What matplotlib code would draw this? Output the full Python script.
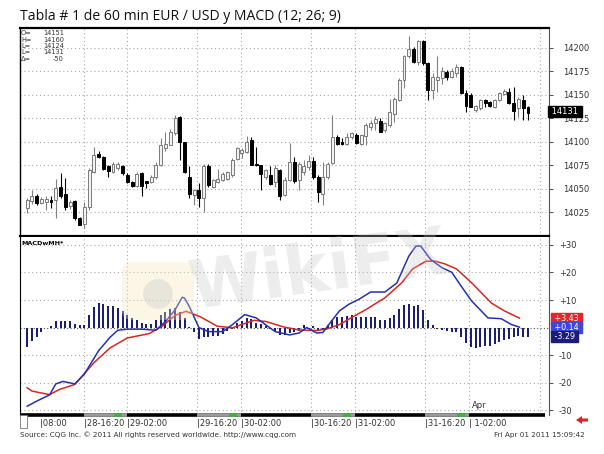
import matplotlib as mpl
mpl.use("Agg")
import matplotlib.pyplot as plt
from matplotlib.patches import FancyBboxPatch, Rectangle, Polygon
import matplotlib.transforms as mtransforms

# hourly EUR/USD candles (price in points, 1.4151 -> 14151)
opens = [14030, 14037, 14043, 14035, 14036, 14038, 14038, 14052, 14045, 14032,
         14037, 14019, 14013, 14031, 14068, 14087, 14084, 14074, 14068, 14072,
         14074, 14065, 14057, 14053, 14067, 14058, 14057, 14063, 14075, 14094,
         14097, 14109, 14126, 14100, 14063, 14044, 14049, 14040, 14074, 14052,
         14057, 14059, 14061, 14065, 14082, 14088, 14089, 14102, 14077, 14075,
         14063, 14065, 14057, 14070, 14044, 14059, 14079, 14059, 14068, 14073,
         14080, 14063, 14045, 14063, 14078, 14105, 14100, 14098, 14105, 14107,
         14098, 14106, 14116, 14120, 14122, 14113, 14118, 14130, 14144, 14166,
         14191, 14199, 14185, 14207, 14184, 14155, 14166, 14168, 14174, 14169,
         14173, 14180, 14152, 14150, 14134, 14136, 14144, 14142, 14137, 14144,
         14151, 14153, 14141, 14136, 14144, 14137]
highs = [14040, 14049, 14045, 14041, 14042, 14043, 14061, 14067, 14062, 14038,
         14038, 14020, 14036, 14072, 14095, 14090, 14085, 14075, 14079, 14079,
         14075, 14067, 14058, 14068, 14068, 14058, 14065, 14079, 14104, 14111,
         14114, 14129, 14127, 14100, 14074, 14050, 14056, 14076, 14076, 14061,
         14071, 14068, 14069, 14083, 14095, 14093, 14106, 14105, 14095, 14075,
         14071, 14074, 14075, 14071, 14063, 14099, 14084, 14079, 14081, 14086,
         14084, 14065, 14079, 14079, 14129, 14107, 14104, 14109, 14111, 14109,
         14108, 14120, 14123, 14127, 14125, 14121, 14146, 14148, 14168, 14192,
         14212, 14201, 14208, 14208, 14185, 14173, 14191, 14180, 14176, 14178,
         14183, 14181, 14155, 14152, 14139, 14146, 14146, 14143, 14146, 14153,
         14156, 14157, 14158, 14148, 14150, 14138]
lows = [14024, 14034, 14033, 14034, 14028, 14030, 14019, 14040, 14028, 14029,
        14017, 14012, 14008, 14028, 14067, 14083, 14070, 14063, 14067, 14070,
        14065, 14056, 14052, 14052, 14042, 14051, 14056, 14061, 14074, 14090,
        14097, 14107, 14081, 14067, 14040, 14033, 14031, 14026, 14052, 14051,
        14056, 14058, 14060, 14063, 14081, 14083, 14088, 14075, 14074, 14049,
        14061, 14054, 14052, 14038, 14042, 14058, 14056, 14049, 14065, 14070,
        14061, 14036, 14033, 14061, 14076, 14097, 14097, 14097, 14103, 14098,
        14097, 14097, 14113, 14113, 14110, 14111, 14116, 14121, 14143, 14157,
        14189, 14184, 14182, 14182, 14144, 14146, 14153, 14162, 14166, 14168,
        14169, 14151, 14132, 14137, 14132, 14134, 14137, 14137, 14136, 14143,
        14150, 14140, 14123, 14126, 14123, 14123]
closes = [14038, 14043, 14035, 14039, 14039, 14036, 14051, 14043, 14031, 14036,
          14019, 14012, 14031, 14070, 14086, 14084, 14071, 14069, 14077, 14077,
          14067, 14057, 14053, 14066, 14053, 14056, 14063, 14075, 14097, 14098,
          14111, 14125, 14100, 14068, 14045, 14049, 14040, 14074, 14054, 14059,
          14061, 14066, 14068, 14081, 14094, 14091, 14100, 14075, 14075, 14066,
          14070, 14055, 14072, 14042, 14059, 14079, 14058, 14077, 14074, 14080,
          14063, 14047, 14063, 14077, 14105, 14098, 14098, 14105, 14109, 14099,
          14107, 14118, 14120, 14124, 14111, 14120, 14132, 14146, 14166, 14191,
          14199, 14185, 14207, 14184, 14155, 14169, 14169, 14175, 14169, 14175,
          14180, 14152, 14138, 14137, 14138, 14144, 14141, 14138, 14144, 14152,
          14154, 14141, 14133, 14146, 14136, 14131]

# MACD histogram, one bar per candle
hist = [-7, -5, -3.5, -1.8, -0.3, 0.5, 2.2, 2.5, 2.5, 2.4,
        1.3, 0.8, 1.0, 4.7, 7.4, 8.9, 8.7, 8.0, 7.8, 7.2,
        6.0, 4.4, 3.3, 2.8, 1.6, 1.2, 1.4, 2.8, 4.4, 5.6,
        6.6, 7.2, 5.6, 3.3, 0.2, -1.8, -4.2, -3.3, -3.3, -3.2,
        -3.0, -2.4, -1.2, -0.4, 1.8, 2.4, 3.3, 3.0, 1.8, 1.2,
        0.4, -0.6, -1.2, -2.8, -2.8, -2.1, -1.6, -1.2, 1.0, -0.5,
        0.5, -1.0, -0.5, 1.0, 2.7, 3.7, 4.0, 4.2, 4.6, 3.7,
        3.7, 4.0, 4.0, 3.7, 2.7, 2.7, 3.3, 4.5, 6.6, 8.2,
        8.6, 7.9, 8.2, 6.3, 2.7, 0.8, -0.5, -0.8, -1.2, -1.8,
        -1.8, -3.6, -5.7, -7.2, -7.6, -7.2, -6.9, -6.6, -6.0, -5.4,
        -4.5, -4.2, -3.6, -3.0, -3.6, -3.29]

# MACD line and signal line, read at bar positions
macd_x = [0, 2.3, 4.7, 6, 7.5, 10, 12, 15, 17.4, 19, 21, 24, 27, 29, 31, 32.5, 33,
          34, 36, 38, 41, 43, 45.6, 48, 50, 52, 55, 57, 58.6, 60.7, 62, 64, 65.5,
          67.5, 69.6, 72, 75, 77.5, 80, 81.5, 82.5, 84.6, 87, 89, 91, 93.2, 96.6,
          99.4, 101.5, 103.2]
macd_y = [-28.6, -26.5, -24.5, -20.5, -19.6, -20.5, -16.9, -8.4, -3.5, -1, -0.6,
          -0.6, -1, 2.2, 6.4, 11, 10.7, 7.6, 0, -1.5, -1.5, 1, 4.7, 3.5, 1, -1.5,
          -2.7, -2, 0, -2, -1.8, 2.8, 6.1, 8.5, 10.3, 12.9, 12.9, 16.2, 25.9, 29.6,
          29.6, 24.7, 21.7, 20.1, 15, 9.6, 3.5, 3.2, 1.1, 0.14]
sig_x = [0, 1, 4.7, 6.8, 10, 14, 17.4, 21, 25.6, 28.3, 31, 33.3, 36.3, 39.8, 43,
         47.5, 50, 53.8, 57, 60.7, 62.7, 65.5, 68.3, 71, 75, 78.5, 80.8, 83.6,
         85.6, 87.6, 90, 93.2, 97.3, 100, 103.2]
sig_y = [-21.9, -23.1, -24.4, -22.5, -20.7, -12.8, -7.4, -3.8, -2.2, 0.5, 4.4,
         5.9, 3.9, 0.5, -0.1, 2.6, 2.2, 0.2, -0.9, -1.1, -0.6, 1.1, 3.9, 6.5,
         10.8, 16.2, 21.3, 24.1, 24.1, 23.1, 21.3, 16.2, 8.9, 6.1, 3.4]

tick_idx = [2.7, 11.9, 21, 35.6, 44.9, 59.5, 68.8, 83.4, 92.7]
tick_lbl = ["|08:00", "|28-16:20", "|29-02:00", "|29-16:20", "|30-02:00",
            "|30-16:20", "|31-02:00", "|31-16:20", "| 1-02:00"]
night = [(11.9, 21), (35.6, 44.9), (59.5, 68.8), (83.4, 92.7)]
marks = [19.1, 43.2, 67.1, 91]

price_ticks = [14025, 14050, 14075, 14100, 14125, 14150, 14175, 14200]
macd_ticks = [-30, -20, -10, 10, 20, 30]

fig = plt.figure(figsize=(6.04, 4.54), dpi=100)
fig.patch.set_facecolor("white")
W, H = 604.0, 454.0

def fx(px):
    return px / W

def fy(py):
    return 1 - py / H

ax = fig.add_axes([fx(20), fy(236), fx(549) - fx(20), fy(28) - fy(236)])
ax2 = fig.add_axes([fx(20), fy(415), fx(549) - fx(20), fy(237) - fy(415)])

xmin, xmax = -1.5, 109.4
grid_kw = dict(color="#a8a8a8", linestyle=(0, (1, 2.5)), linewidth=0.8, zorder=0)

# --- price panel
for p in price_ticks:
    ax.axhline(p, **grid_kw)
for t in tick_idx[1:] + [107.5]:
    ax.axvline(t, **grid_kw)
    ax2.axvline(t, **grid_kw)

for i in range(len(opens)):
    o, h, l, c = opens[i], highs[i], lows[i], closes[i]
    up = c >= o
    ax.vlines(i, l, h, color="#808080" if up else "black", linewidth=0.8, zorder=2)
    ax.bar(i, max(abs(c - o), 1.2), bottom=min(o, c), width=0.62,
           facecolor="#f2f2f2" if up else "black",
           edgecolor="#7a7a7a" if up else "black", linewidth=0.7, zorder=3)

ax.set_xlim(xmin, xmax)
ax.set_ylim(14000, 14221)
ax.yaxis.tick_right()
ax.set_yticks(price_ticks)
ax.set_yticklabels([str(p) for p in price_ticks])
ax.tick_params(axis="y", labelsize=6, colors="#333333", length=3, width=0.6, pad=7)
ax.set_xticks([])
for s in ["left", "top", "bottom"]:
    ax.spines[s].set_color("black")
ax.spines["top"].set_linewidth(1.6)
ax.spines["bottom"].set_linewidth(1.6)
ax.spines["left"].set_linewidth(1.0)
ax.spines["right"].set_color("#555555")
ax.spines["right"].set_linewidth(0.8)

# last price box, drawn over the right scale like the CQG chart
tr = mtransforms.blended_transform_factory(ax.transAxes, ax.transData)
ax.text(1.0, closes[-1] + 1.5, " 14131 ", transform=tr, ha="left", va="center",
        fontsize=6, color="white", zorder=10,
        bbox=dict(boxstyle="square,pad=0.12", facecolor="black", edgecolor="black"))

info = [("O=", "14151"), ("H=", "14160"), ("L=", "14124"), ("L=", "14131"), ("\u0394=", "-50")]
for k, (a, b) in enumerate(info):
    yy = 33 + k * 6.5
    fig.text(fx(21), fy(yy), a, fontsize=4.8, color="#333333", va="center")
    fig.text(fx(64), fy(yy), b, fontsize=4.8, color="#333333", va="center", ha="right")

# --- MACD panel
for v in macd_ticks:
    ax2.axhline(v, **grid_kw)
ax2.axhline(0, color="#555555", linestyle=(0, (1, 2)), linewidth=0.8, zorder=0)

ax2.bar(range(len(hist)), hist, width=0.42, color="#1c1d78", zorder=2)
ax2.plot(sig_x, sig_y, color="#d8281e", linewidth=1.1, zorder=3)
ax2.plot(macd_x, macd_y, color="#2630b0", linewidth=1.1, zorder=4)

ax2.set_xlim(xmin, xmax)
ax2.set_ylim(-31.8, 32.9)
ax2.yaxis.tick_right()
ax2.set_yticks(macd_ticks)
ax2.set_yticklabels(["%+d" % v for v in macd_ticks])
ax2.tick_params(axis="y", labelsize=6, colors="#333333", length=3, width=0.6, pad=4)
ax2.set_xticks([])
ax2.spines["top"].set_visible(False)
ax2.spines["bottom"].set_visible(False)
ax2.spines["left"].set_color("black")
ax2.spines["right"].set_color("#555555")
ax2.spines["right"].set_linewidth(0.8)

tr2 = mtransforms.blended_transform_factory(ax2.transAxes, ax2.transData)
boxes = [(sig_y[-1] + 0.03, "+3.43", "#e3262c"),
         (macd_y[-1], "+0.14", "#3a48e0"),
         (hist[-1], "-3.29", "#1a1c7a")]
for v, s, col in boxes:
    ax2.text(1.005, v, " " + s + " ", transform=tr2, ha="left", va="center",
             fontsize=5.8, color="white", zorder=10,
             bbox=dict(boxstyle="square,pad=0.12", facecolor=col, edgecolor=col))

ax2.text(0.003, 0.975, "MACDwMH*", transform=ax2.transAxes, fontsize=4.6,
         fontweight="bold", va="top", ha="left", color="black")

# time bar under the MACD panel
trb = mtransforms.blended_transform_factory(ax2.transData, ax2.transAxes)
ax2.plot([xmin, 108.5], [0, 0], color="black", linewidth=2.6, transform=trb,
         clip_on=False, zorder=5, solid_capstyle="butt")
for a, b in night:
    ax2.plot([a, b], [0, 0], color="#9a9a9a", linewidth=2.6, transform=trb,
             clip_on=False, zorder=6, solid_capstyle="butt")
for m in marks:
    ax2.plot([m - 0.8, m + 0.8], [0, 0], color="#3cb43c", linewidth=2.6,
             transform=trb, clip_on=False, zorder=7, solid_capstyle="butt")
for t, s in zip(tick_idx, tick_lbl):
    ax2.text(t, -0.045, s, transform=trb, fontsize=6, color="#333333",
             ha="left", va="center", clip_on=False)
ax2.text(92.7 + 0.5, 0.03, "Apr", transform=trb, fontsize=6, color="#333333",
         ha="left", va="bottom")
fig.patches.append(Rectangle((fx(20), fy(428)), fx(7), fy(415) - fy(428),
                             transform=fig.transFigure, facecolor="white",
                             edgecolor="#777777", linewidth=0.6))

# header / footer text
fig.text(fx(20), fy(17), "Tabla # 1 de 60 min EUR / USD y MACD (12; 26; 9)",
         fontsize=10.1, family="Open Sans", color="#111111", va="center", ha="left")
fig.text(fx(20), fy(435), "Source: CQG Inc. \u00a9 2011 All rights reserved worldwide. http://www.cqg.com",
         fontsize=5.2, color="#333333", va="center", ha="left")
fig.text(fx(585), fy(435), "Fri Apr 01 2011 15:09:42", fontsize=5.2,
         color="#333333", va="center", ha="right")
fig.patches.append(Polygon([(fx(576), fy(420)), (fx(582), fy(416)), (fx(582), fy(418.5)),
                            (fx(588), fy(418.5)), (fx(588), fy(421.5)), (fx(582), fy(421.5)),
                            (fx(582), fy(424))], closed=True, transform=fig.transFigure,
                           facecolor="#e02020", edgecolor="none"))

# faint watermark
fig.patches.append(FancyBboxPatch((fx(122), fy(320)), fx(72), fy(262) - fy(320),
                                  boxstyle="round,pad=0.0,rounding_size=0.02",
                                  transform=fig.transFigure, facecolor="#f4e7b8",
                                  edgecolor="none", alpha=0.35, zorder=20))
fig.text(fx(158), fy(292), "\u25cf", fontsize=28, color="#cccccc", alpha=0.4,
         ha="center", va="center", zorder=21)
fig.text(fx(318), fy(272), "WikiFX", fontsize=48, fontweight="bold", color="#c4c4c4",
         alpha=0.3, ha="center", va="center", rotation=8, zorder=21)

fig.savefig("out.png", dpi=100)
